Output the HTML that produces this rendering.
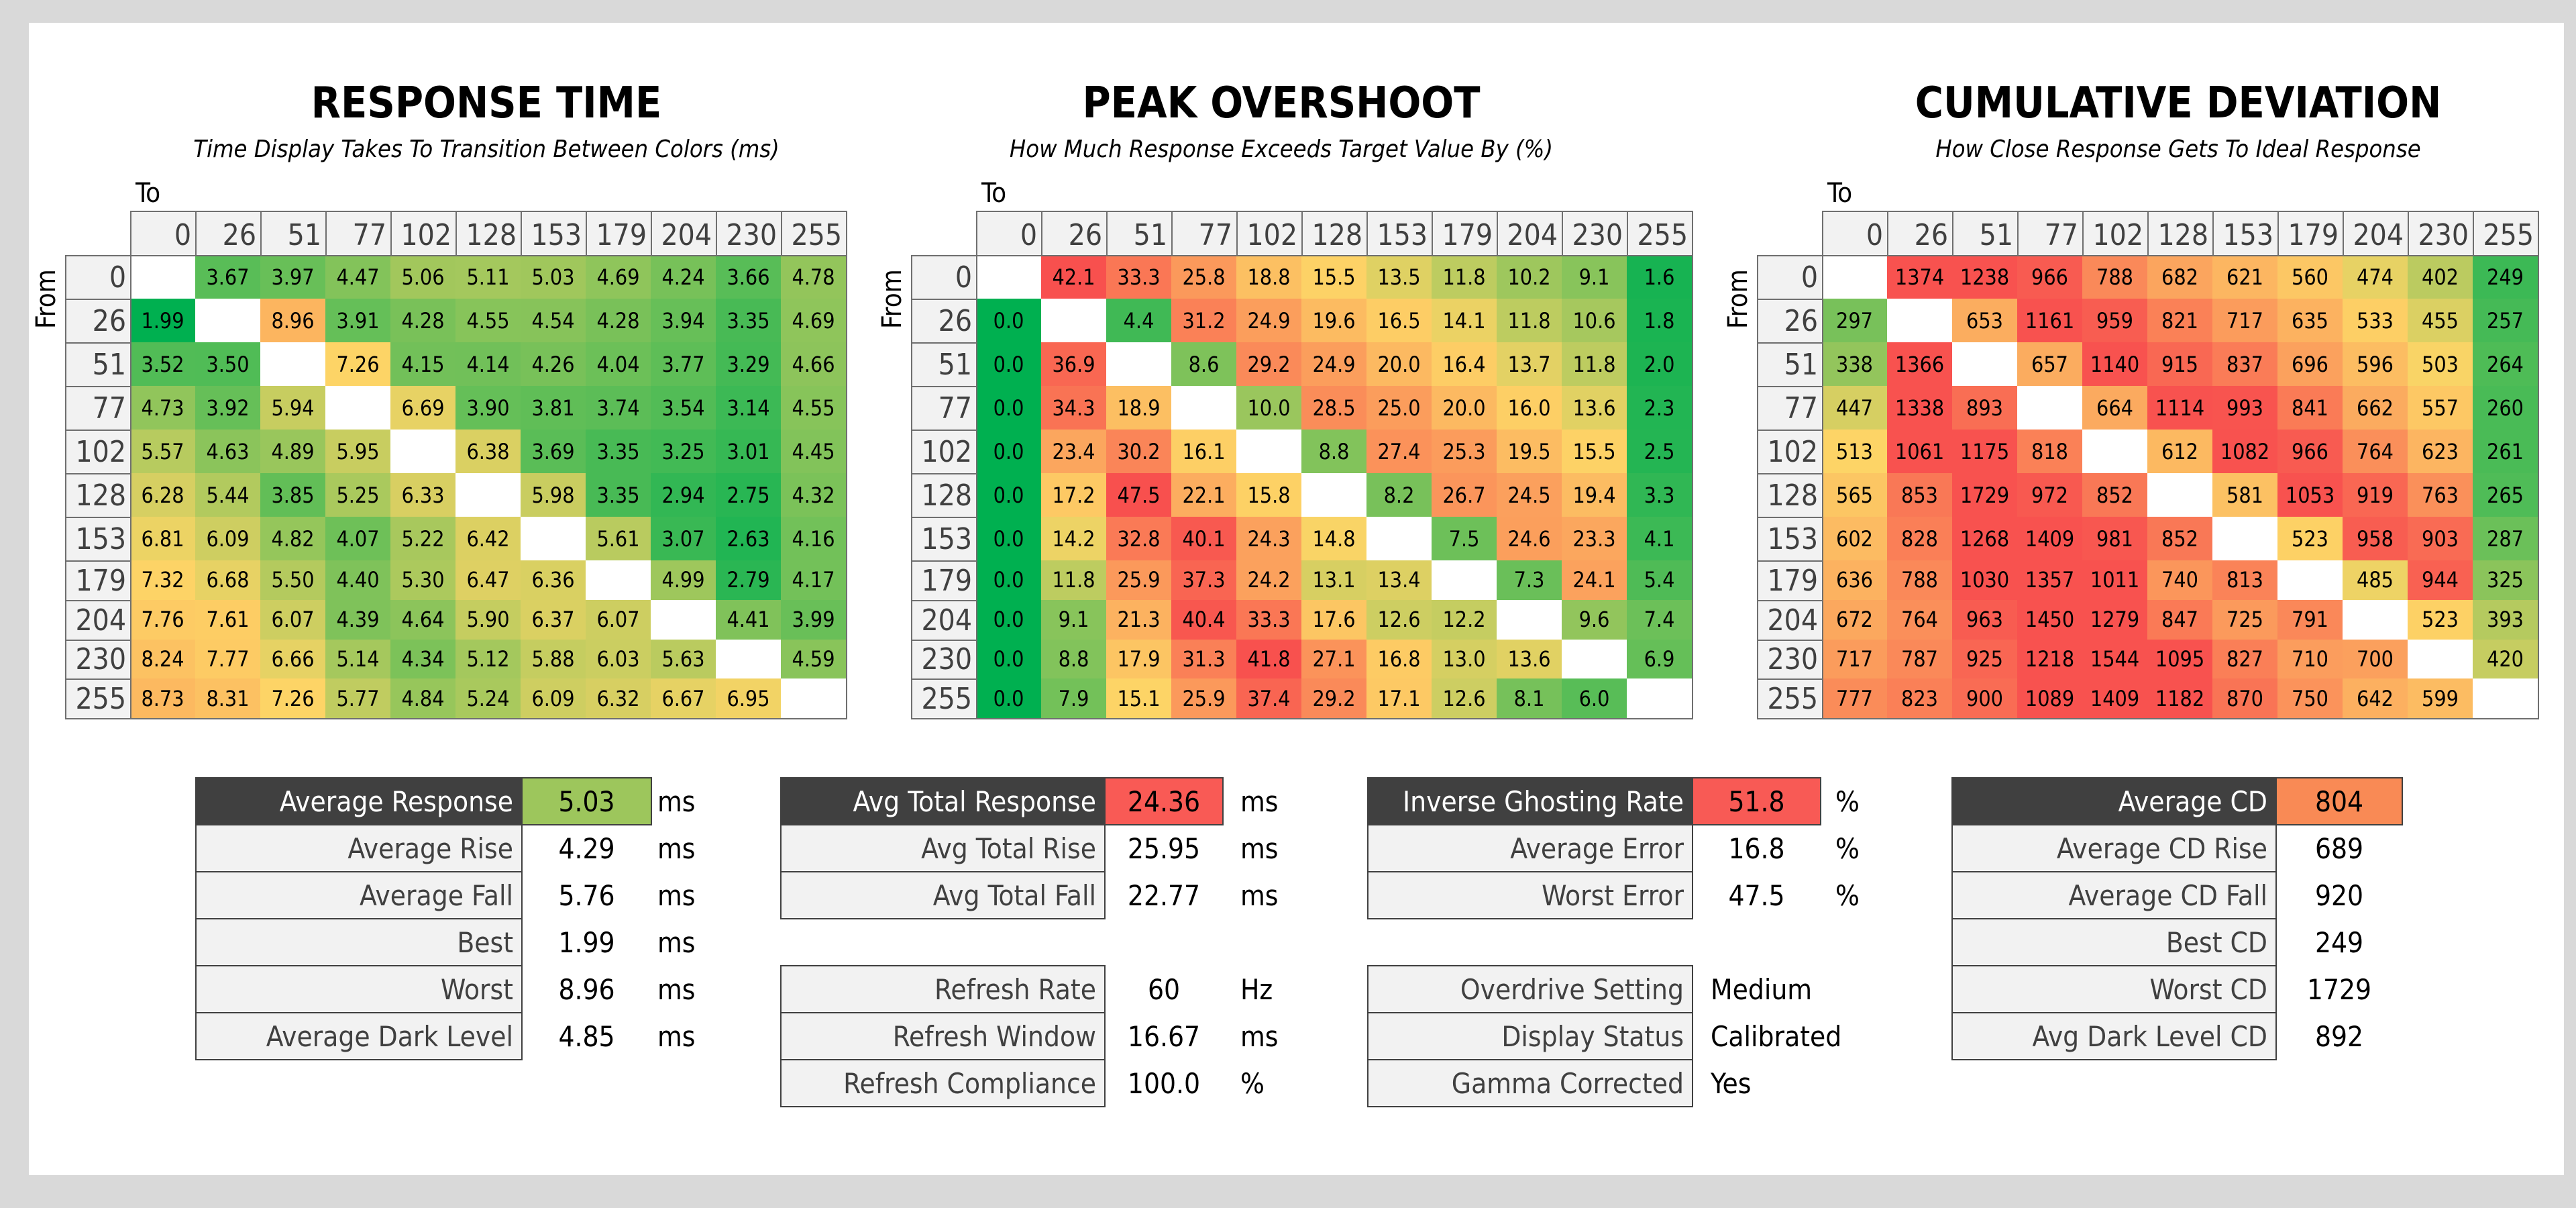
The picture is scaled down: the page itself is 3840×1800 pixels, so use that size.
<!DOCTYPE html>
<html><head><meta charset="utf-8">
<style>
html,body{margin:0;padding:0}
body{width:3840px;height:1800px;background:#d9d9d9;position:relative;overflow:hidden;font-family:"Liberation Sans Narrow","DejaVu Sans","Liberation Sans",sans-serif;font-stretch:condensed}
#panel{position:absolute;left:43px;top:34px;width:3779px;height:1717px;background:#fff}
.abs{position:absolute;box-sizing:border-box}
.title{position:absolute;font-size:64px;font-weight:bold;color:#000;transform:translateX(-50%);white-space:nowrap;line-height:1}
.sub{position:absolute;font-size:36px;font-style:italic;color:#000;transform:translateX(-50%);white-space:nowrap;line-height:1}
.to{position:absolute;font-size:40px;color:#000;line-height:1}
.from{position:absolute;font-size:40px;color:#000;line-height:1;transform:rotate(-90deg);transform-origin:left top}
.hd{background:#f2f2f2;border:2px solid #6f6f6f;color:#404040;font-size:44px;text-align:right;padding-right:6px;display:flex;align-items:flex-end;justify-content:flex-end;padding-bottom:4px}
.rl{background:#f2f2f2;border:2px solid #6f6f6f;color:#404040;font-size:44px;display:flex;align-items:center;justify-content:flex-end;padding-right:6px}
.cell{display:flex;align-items:center;justify-content:center;font-size:32px;color:#000}
.lab{background:#f2f2f2;border:2px solid #404040;color:#404040;font-size:42px;display:flex;align-items:center;justify-content:flex-end;padding-right:12px}
.lab.dark{background:#404040;color:#fff}
.val{font-size:42px;color:#000;display:flex;align-items:center;justify-content:center}
.val.box{border:2px solid #404040}
.unit{font-size:42px;color:#000;display:flex;align-items:center}
</style></head>
<body>
<div id="panel"></div>

<div class="title" style="left:725px;top:122px">RESPONSE TIME</div>
<div class="sub" style="left:725px;top:205px">Time Display Takes To Transition Between Colors (ms)</div>
<div class="title" style="left:1910px;top:122px">PEAK OVERSHOOT</div>
<div class="sub" style="left:1910px;top:205px">How Much Response Exceeds Target Value By (%)</div>
<div class="title" style="left:3247px;top:122px">CUMULATIVE DEVIATION</div>
<div class="sub" style="left:3247px;top:205px">How Close Response Gets To Ideal Response</div>

<div id="grids"></div>
<div id="tables"></div>

<script>
const levels = ["0","26","51","77","102","128","153","179","204","230","255"];
const rtValues = [
[null,3.67,3.97,4.47,5.06,5.11,5.03,4.69,4.24,3.66,4.78],
[1.99,null,8.96,3.91,4.28,4.55,4.54,4.28,3.94,3.35,4.69],
[3.52,3.50,null,7.26,4.15,4.14,4.26,4.04,3.77,3.29,4.66],
[4.73,3.92,5.94,null,6.69,3.90,3.81,3.74,3.54,3.14,4.55],
[5.57,4.63,4.89,5.95,null,6.38,3.69,3.35,3.25,3.01,4.45],
[6.28,5.44,3.85,5.25,6.33,null,5.98,3.35,2.94,2.75,4.32],
[6.81,6.09,4.82,4.07,5.22,6.42,null,5.61,3.07,2.63,4.16],
[7.32,6.68,5.50,4.40,5.30,6.47,6.36,null,4.99,2.79,4.17],
[7.76,7.61,6.07,4.39,4.64,5.90,6.37,6.07,null,4.41,3.99],
[8.24,7.77,6.66,5.14,4.34,5.12,5.88,6.03,5.63,null,4.59],
[8.73,8.31,7.26,5.77,4.84,5.24,6.09,6.32,6.67,6.95,null]];
const osValues = [
[null,42.1,33.3,25.8,18.8,15.5,13.5,11.8,10.2,9.1,1.6],
[0.0,null,4.4,31.2,24.9,19.6,16.5,14.1,11.8,10.6,1.8],
[0.0,36.9,null,8.6,29.2,24.9,20.0,16.4,13.7,11.8,2.0],
[0.0,34.3,18.9,null,10.0,28.5,25.0,20.0,16.0,13.6,2.3],
[0.0,23.4,30.2,16.1,null,8.8,27.4,25.3,19.5,15.5,2.5],
[0.0,17.2,47.5,22.1,15.8,null,8.2,26.7,24.5,19.4,3.3],
[0.0,14.2,32.8,40.1,24.3,14.8,null,7.5,24.6,23.3,4.1],
[0.0,11.8,25.9,37.3,24.2,13.1,13.4,null,7.3,24.1,5.4],
[0.0,9.1,21.3,40.4,33.3,17.6,12.6,12.2,null,9.6,7.4],
[0.0,8.8,17.9,31.3,41.8,27.1,16.8,13.0,13.6,null,6.9],
[0.0,7.9,15.1,25.9,37.4,29.2,17.1,12.6,8.1,6.0,null]];
const cdValues = [
[null,1374,1238,966,788,682,621,560,474,402,249],
[297,null,653,1161,959,821,717,635,533,455,257],
[338,1366,null,657,1140,915,837,696,596,503,264],
[447,1338,893,null,664,1114,993,841,662,557,260],
[513,1061,1175,818,null,612,1082,966,764,623,261],
[565,853,1729,972,852,null,581,1053,919,763,265],
[602,828,1268,1409,981,852,null,523,958,903,287],
[636,788,1030,1357,1011,740,813,null,485,944,325],
[672,764,963,1450,1279,847,725,791,null,523,393],
[717,787,925,1218,1544,1095,827,710,700,null,420],
[777,823,900,1089,1409,1182,870,750,642,599,null]];

// colour scales (value stop -> rgb)
const rtScale=[[2,[0,176,80]],[5,[159,199,92]],[7.2,[253,213,102]],[9,[252,180,95]]];
const osScale=[[0,[0,176,80]],[8.5,[124,194,90]],[15,[253,213,102]],[25,[251,157,92]],[42,[248,80,78]]];
const cdScale=[[250,[60,185,85]],[300,[124,194,90]],[510,[253,213,102]],[700,[251,160,93]],[1000,[248,82,79]]];
function colorFor(v,s){
  if(v<=s[0][0])return 'rgb('+s[0][1].join(',')+')';
  for(let i=1;i<s.length;i++){
    if(v<=s[i][0]){const t=(v-s[i-1][0])/(s[i][0]-s[i-1][0]);const a=s[i-1][1],b=s[i][1];
      return 'rgb('+a.map((x,k)=>Math.round(x+(b[k]-x)*t)).join(',')+')';}
  }
  return 'rgb('+s[s.length-1][1].join(',')+')';
}
const colW=97, hdTop=314, hdH=66, rowsTop=380;
function rowTop(i){return i<7? rowsTop+i*65 : rowsTop+455+(i-7)*58.75;}
function rowH(i){return i<7?65:58.75;}
const grids=document.getElementById('grids');
function mk(cls,x,y,w,h,txt,name,parent){
  const d=document.createElement('div');
  d.className='abs '+cls;
  d.style.left=x+'px';d.style.top=y+'px';d.style.width=w+'px';d.style.height=h+'px';
  if(txt!==undefined&&txt!==null)d.textContent=txt;
  
  
  (parent||grids).appendChild(d);return d;
}
function drawGrid(x0,vals,scale,fmt,key){
  const toL=document.createElement('div');toL.className='to';toL.textContent='To';
  toL.style.left=(x0+8)+'px';toL.style.top='268px';
  
  
  grids.appendChild(toL);
  const fr=document.createElement('div');fr.className='from';fr.textContent='From';
  fr.style.left=(x0-145)+'px';fr.style.top='490px';
  
  
  grids.appendChild(fr);
  levels.forEach((l,j)=>{mk('hd',x0+j*colW,hdTop,colW+2,hdH+2,l,key+'-col-header');});
  levels.forEach((l,i)=>{mk('rl',x0-colW,rowTop(i),colW+2,rowH(i)+2,l,key+'-row-header');});
  vals.forEach((row,i)=>row.forEach((v,j)=>{
    const c=mk('cell',x0+j*colW,rowTop(i),colW,rowH(i),v===null?'':fmt(v),key+'-cell');
    c.style.background=v===null?'#fff':colorFor(v,scale);
  }));
  const b=mk('',x0,rowsTop,colW*11+2,1072-rowsTop,null,key+'-outline');
  b.style.border='2px solid #6f6f6f';
}
drawGrid(194,rtValues,rtScale,v=>v.toFixed(2),'response-time');
drawGrid(1455,osValues,osScale,v=>v.toFixed(1),'overshoot');
drawGrid(2716,cdValues,cdScale,v=>String(v),'cumulative-deviation');

// stats tables
const tables=document.getElementById('tables');
const t1Labels=["Average Response","Average Rise","Average Fall","Best","Worst","Average Dark Level"];
const t1Values=["5.03","4.29","5.76","1.99","8.96","4.85"];
const t2Labels=["Avg Total Response","Avg Total Rise","Avg Total Fall",null,"Refresh Rate","Refresh Window","Refresh Compliance"];
const t2Values=["24.36","25.95","22.77",null,"60","16.67","100.0"];
const t2Units=["ms","ms","ms",null,"Hz","ms","%"];
const t3Labels=["Inverse Ghosting Rate","Average Error","Worst Error",null,"Overdrive Setting","Display Status","Gamma Corrected"];
const t3Values=["51.8","16.8","47.5",null,"Medium","Calibrated","Yes"];
const t3Units=["%","%","%",null,"","",""];
const t4Labels=["Average CD","Average CD Rise","Average CD Fall","Best CD","Worst CD","Avg Dark Level CD"];
const t4Values=["804","689","920","249","1729","892"];
function drawTable(lx,lw,vw,ux,labels,values,units,hiColor,key,leftText){
  labels.forEach((l,i)=>{
    if(l===null)return;
    const y=1158+i*70;
    mk('lab'+(i===0?' dark':''),lx,y,lw+2,72,l,key+'-label',tables);
    const v=mk('val'+(i===0?' box':''),lx+lw,y,vw+2,72,values[i],key+'-value',tables);
    if(i===0)v.style.background=hiColor;
    if(leftText&&isNaN(parseFloat(values[i]))){v.style.justifyContent='flex-start';v.style.paddingLeft='28px';}
    if(units&&units[i])mk('unit',ux,y,80,72,units[i],key+'-unit',tables);
  });
}
drawTable(291,486,193,980,t1Labels,t1Values,t1Labels.map(()=>"ms"),'#9dc65c','response-stats');
drawTable(1163,483,176,1849,t2Labels,t2Values,t2Units,'#f95a55','overshoot-stats');
drawTable(2038,484,191,2736,t3Labels,t3Values,t3Units,'#f85a55','ghosting-stats',true);
drawTable(2909,483,188,0,t4Labels,t4Values,null,'#f98a55','cd-stats');
</script>
</body></html>
